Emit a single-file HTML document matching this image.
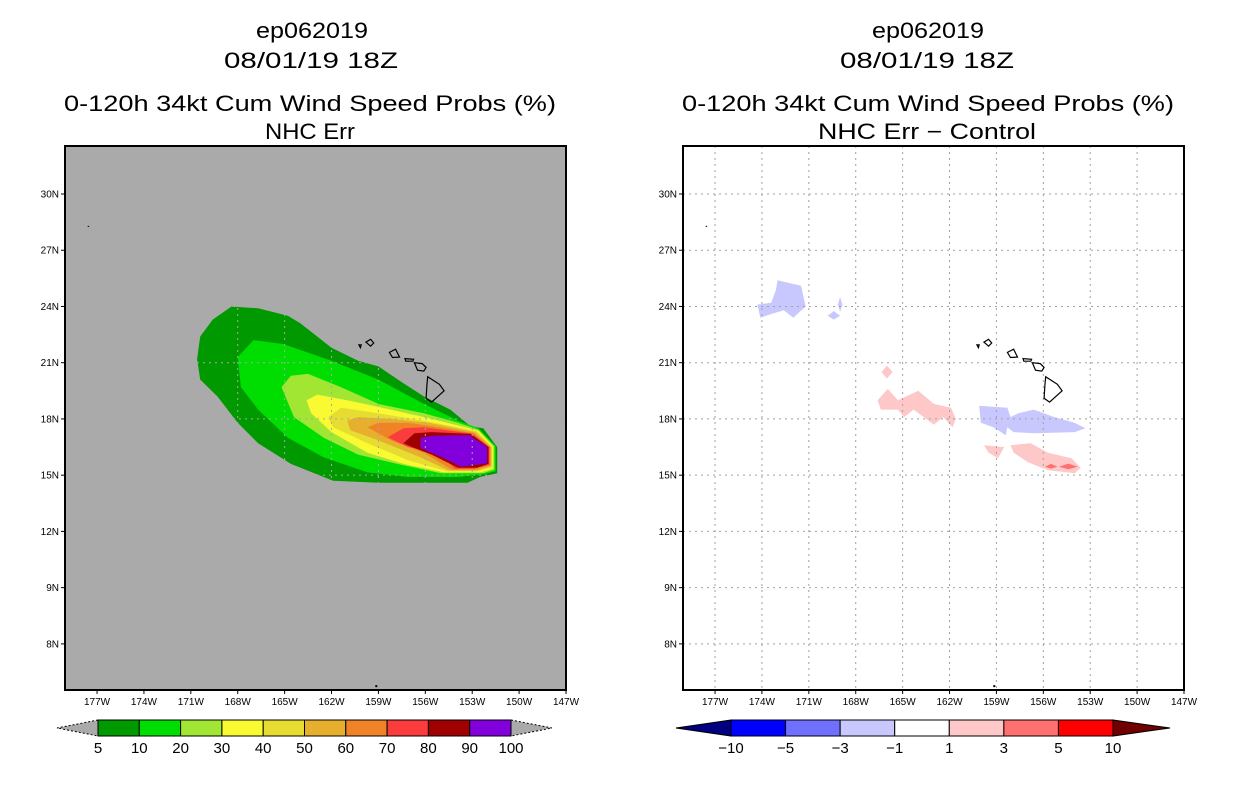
<!DOCTYPE html>
<html><head><meta charset="utf-8"><style>
html,body{margin:0;padding:0;background:#fff;}
svg{display:block;}
text{font-family:"Liberation Sans",sans-serif;}
</style></head><body>
<svg id="s" width="1236" height="800" viewBox="0 0 1236 800" xmlns="http://www.w3.org/2000/svg">
<g font-size="22" fill="#000">
<text x="256" y="38" textLength="112" lengthAdjust="spacingAndGlyphs">ep062019</text>
<text x="224" y="68" textLength="174" lengthAdjust="spacingAndGlyphs">08/01/19 18Z</text>
<text x="64" y="111" textLength="492" lengthAdjust="spacingAndGlyphs">0-120h 34kt Cum Wind Speed Probs (%)</text>
<text x="265" y="139" textLength="90" lengthAdjust="spacingAndGlyphs">NHC Err</text>
</g>
<g font-size="22" fill="#000">
<text x="872" y="38" textLength="112" lengthAdjust="spacingAndGlyphs">ep062019</text>
<text x="840" y="68" textLength="174" lengthAdjust="spacingAndGlyphs">08/01/19 18Z</text>
<text x="682" y="111" textLength="492" lengthAdjust="spacingAndGlyphs">0-120h 34kt Cum Wind Speed Probs (%)</text>
<text x="818" y="139" textLength="218" lengthAdjust="spacingAndGlyphs">NHC Err − Control</text>
</g>
</svg>
<script>
const lonTicks=[-177,-174,-171,-168,-165,-162,-159,-156,-153,-150,-147];
const lonLabels=["177W","174W","171W","168W","165W","162W","159W","156W","153W","150W","147W"];
const latTicks=[30,27,24,21,18,15,12,9,6];
const latLabels=["30N","27N","24N","21N","18N","15N","12N","9N","8N"];
const probLevels=["5","10","20","30","40","50","60","70","80","90","100"];
const probColors=["#009900","#00dd00","#a0e632","#fafa32","#e6dc32","#e6af2d","#f08228","#fa3c3c","#a00000","#8200dc"];
const diffLevels=["-10","-5","-3","-1","1","3","5","10"];
const diffColors=["#0000ff","#7070ff","#c8c8ff","#ffffff","#ffc8c8","#ff7070","#ff0000"];
const prob05=[[-170.4,22.4],[-169.6,23.3],[-168.4,24.0],[-166.7,23.9],[-164.8,23.5],[-164.0,23.1],[-162.0,21.8],[-160.3,21.1],[-159.0,20.8],[-157.4,19.9],[-156.1,19.2],[-154.4,18.5],[-153.1,17.6],[-152.3,17.5],[-151.4,16.5],[-151.4,15.1],[-152.5,14.9],[-153.3,14.6],[-156.1,14.6],[-159.0,14.6],[-161.9,14.7],[-164.6,15.6],[-166.7,16.7],[-168.0,17.8],[-169.3,19.2],[-170.4,20.1],[-170.6,21.2]];
const prob10=[[-168.0,21.3],[-167.0,22.2],[-165.1,22.0],[-162.0,21.1],[-159.0,20.1],[-156.1,18.8],[-153.9,17.9],[-152.6,17.5],[-151.5,16.55],[-151.5,15.2],[-152.3,15.05],[-153.9,14.9],[-157.1,14.9],[-159.7,15.15],[-162.5,15.95],[-164.8,17.0],[-166.7,18.5],[-167.8,19.7]];
const prob20=[[-165.2,19.7],[-164.6,20.3],[-163.5,20.4],[-161.4,19.7],[-159.0,18.8],[-156.1,18.3],[-153.9,17.8],[-152.6,17.42],[-151.58,16.55],[-151.58,15.28],[-152.3,15.1],[-155.0,15.1],[-157.8,15.6],[-160.3,16.1],[-162.5,17.0],[-164.4,18.1]];
const prob30=[[-163.6,19.0],[-162.9,19.3],[-161.0,19.0],[-158.2,18.5],[-155.6,18.0],[-152.6,17.38],[-151.66,16.52],[-151.66,15.35],[-152.5,15.15],[-154.8,15.15],[-157.4,15.6],[-159.7,16.2],[-162.0,17.3],[-163.3,18.3]];
const prob40=[[-162.2,18.1],[-161.4,18.6],[-159.0,18.3],[-156.1,17.9],[-152.7,17.35],[-151.72,16.5],[-151.72,15.42],[-152.6,15.2],[-154.6,15.2],[-157.1,15.8],[-159.7,16.7],[-161.9,17.56]];
const prob50=[[-161.0,17.9],[-160.3,18.1],[-158.2,18.0],[-155.8,17.8],[-152.8,17.3],[-151.78,16.5],[-151.78,15.48],[-152.7,15.25],[-154.5,15.25],[-156.3,15.95],[-159.0,16.86],[-160.8,17.4]];
const prob60=[[-159.7,17.56],[-159.0,17.8],[-157.1,17.8],[-155.5,17.6],[-152.9,17.25],[-151.84,16.5],[-151.84,15.52],[-152.8,15.3],[-154.3,15.3],[-156.1,16.2],[-158.2,16.86]];
const prob70=[[-158.4,17.02],[-157.4,17.5],[-156.1,17.56],[-153.0,17.22],[-151.9,16.5],[-151.9,15.56],[-152.9,15.35],[-154.1,15.35],[-155.2,16.2],[-157.1,16.5]];
const prob80=[[-157.4,16.7],[-156.7,17.24],[-155.6,17.3],[-153.1,17.2],[-151.96,16.5],[-151.96,15.6],[-152.7,15.4],[-153.9,15.4],[-155.6,16.1],[-156.7,16.45]];
const prob90=[[-156.3,17.0],[-155.5,17.1],[-153.2,17.13],[-152.05,16.5],[-152.05,15.64],[-153.7,15.45],[-154.8,15.9],[-156.3,16.45]];
const probPolys=[prob05,prob10,prob20,prob30,prob40,prob50,prob60,prob70,prob80,prob90];
const diffBlueNW=[[-173.0,25.4],[-171.5,25.1],[-171.2,24.0],[-172.0,23.4],[-172.6,23.8],[-173.4,23.6],[-174.1,23.4],[-174.3,24.1],[-173.4,24.2],[-173.1,24.9]];
const diffBlueSmall1=[[-169.0,24.5],[-168.85,24.1],[-169.0,23.7],[-169.15,24.1]];
const diffBlueSmall2=[[-169.4,23.75],[-169.0,23.5],[-169.4,23.3],[-169.8,23.5]];
const diffPinkMid=[[-166.6,19.0],[-165.95,19.6],[-165.3,19.0],[-164.0,19.5],[-163.0,18.8],[-161.9,18.6],[-161.6,18.0],[-161.8,17.56],[-162.4,18.1],[-163.0,17.7],[-164.3,18.5],[-164.9,18.1],[-165.3,18.5],[-166.4,18.5]];
const diffPinkDot=[[-166.0,20.85],[-165.65,20.5],[-166.0,20.15],[-166.35,20.5]];
const diffBlueE=[[-160.1,18.7],[-158.3,18.6],[-158.1,18.1],[-157.6,18.3],[-156.6,18.5],[-155.3,18.1],[-154.0,17.8],[-153.3,17.5],[-154.0,17.3],[-156.6,17.24],[-157.9,17.3],[-158.3,17.56],[-158.4,17.13],[-159.2,17.56],[-160.0,17.8]];
const diffPinkS1=[[-159.8,16.6],[-158.5,16.5],[-158.9,15.9],[-159.5,16.2]];
const diffPinkS2=[[-158.1,16.6],[-156.8,16.7],[-155.7,16.2],[-154.2,15.9],[-153.6,15.4],[-154.0,15.1],[-155.7,15.26],[-157.0,15.7],[-157.9,16.2]];
const diffRed1=[[-155.9,15.45],[-155.5,15.6],[-155.1,15.45],[-155.5,15.35]];
const diffRed2=[[-155.0,15.45],[-154.4,15.62],[-153.8,15.45],[-154.4,15.32]];
const diffPolys=[[diffBlueNW,"#c8c8ff"],[diffBlueSmall1,"#c8c8ff"],[diffBlueSmall2,"#c8c8ff"],[diffPinkMid,"#ffc8c8"],[diffPinkDot,"#ffc8c8"],[diffBlueE,"#c8c8ff"],[diffPinkS1,"#ffc8c8"],[diffPinkS2,"#ffc8c8"],[diffRed1,"#ff7070"],[diffRed2,"#ff7070"]];
const islands=[
 [[-155.85,20.25],[-155.1,19.85],[-154.8,19.5],[-155.6,18.9],[-155.95,19.1],[-155.9,19.8]],
 [[-156.7,21.0],[-156.2,20.95],[-155.95,20.75],[-156.1,20.55],[-156.5,20.6]],
 [[-157.3,21.22],[-156.75,21.18],[-156.8,21.08],[-157.25,21.08]],
 [[-158.3,21.55],[-157.9,21.72],[-157.65,21.3],[-158.1,21.28]],
 [[-159.8,22.1],[-159.5,22.25],[-159.3,22.05],[-159.5,21.88]],
 [[-160.25,21.95],[-160.1,21.95],[-160.15,21.8]]
];
const lonMin=-179.05,lonMax=-147,latMin=3.54,latMax=32.56;
const S=document.getElementById('s');
const NS="http://www.w3.org/2000/svg";
function mk(t,a,p){const e=document.createElementNS(NS,t);for(const k in a)e.setAttribute(k,a[k]);(p||S).appendChild(e);return e;}
function panel(ox){
 const x0=ox,x1=ox+501,y0=146,y1=690;
 const px=l=>x0+(l-lonMin)/(lonMax-lonMin)*(x1-x0);
 const py=l=>y0+(latMax-l)/(latMax-latMin)*(y1-y0);
 const pts=a=>a.map(p=>px(p[0]).toFixed(1)+","+py(p[1]).toFixed(1)).join(" ");
 return {x0,x1,y0,y1,px,py,pts};
}
function drawPanel(P,side,bg){
 const g=mk('g',{});
 
 
 const r=mk('rect',{x:P.x0,y:P.y0,width:P.x1-P.x0,height:P.y1-P.y0,fill:bg},g);
 
 
 return g;
}
function drawAxes(P,side,g,grid){
 const gg=mk('g',{stroke:grid,'stroke-width':1,'stroke-dasharray':'2,4'},g);
 
 
 lonTicks.forEach(l=>{const x=P.px(l);if(x<P.x1-1)mk('line',{x1:x,x2:x,y1:P.y0,y2:P.y1},gg);});
 latTicks.forEach(l=>{const y=P.py(l);mk('line',{x1:P.x0,x2:P.x1,y1:y,y2:y},gg);});
 const ig=mk('g',{fill:'none',stroke:'#000','stroke-width':1.2},g);
 
 
 islands.forEach(is=>mk('polygon',{points:P.pts(is)},ig));
 mk('rect',{x:P.px(-177.6),y:P.py(28.3),width:1.5,height:1,fill:'#000',stroke:'none'},ig);
 mk('rect',{x:P.px(-159.2),y:P.py(3.8),width:2,height:2,fill:'#000',stroke:'none'},ig);
 const fr=mk('rect',{x:P.x0,y:P.y0,width:P.x1-P.x0,height:P.y1-P.y0,fill:'none',stroke:'#000','stroke-width':2},g);
 
 
 const xa=mk('g',{'font-size':10,'text-anchor':'middle'},g);
 
 
 lonTicks.forEach((l,i)=>{const x=P.px(l);mk('line',{x1:x,x2:x,y1:P.y1,y2:P.y1+4,stroke:'#000'},xa);const t=mk('text',{x:x,y:P.y1+15},xa);t.textContent=lonLabels[i];});
 const ya=mk('g',{'font-size':10,'text-anchor':'end'},g);
 
 
 latTicks.forEach((l,i)=>{const y=P.py(l);mk('line',{x1:P.x0-4,x2:P.x0,y1:y,y2:y,stroke:'#000'},ya);const t=mk('text',{x:P.x0-6,y:y+3.5},ya);t.textContent=latLabels[i];});
}
function colorbar(side,x0,x1,tl,tr,colors,labels,lc,rc){
 const g=mk('g',{});
 
 
 const y0=720,y1=736,n=colors.length,w=(x1-x0)/n;
 mk('polygon',{points:`${x0},${y0} ${tl},${(y0+y1)/2} ${x0},${y1}`,fill:lc,stroke:'#000','stroke-width':1,'stroke-dasharray':lc=='#aaaaaa'?'2,2':'none'},g);
 mk('polygon',{points:`${x1},${y0} ${tr},${(y0+y1)/2} ${x1},${y1}`,fill:rc,stroke:'#000','stroke-width':1,'stroke-dasharray':rc=='#aaaaaa'?'2,2':'none'},g);
 colors.forEach((c,i)=>{const r=mk('rect',{x:x0+i*w,y:y0,width:w,height:y1-y0,fill:c,stroke:'#000','stroke-width':1},g);});
 labels.forEach((l,i)=>{const t=mk('text',{x:x0+i*w,y:753,'font-size':15,'text-anchor':'middle'},g);t.textContent=l.replace('-','−');});
}
const PL=panel(65);
const gl=drawPanel(PL,'left','#aaaaaa');
const cg=mk('g',{'stroke-linejoin':'round'},gl);


probPolys.forEach((p,i)=>{const e=mk('polygon',{points:PL.pts(p),fill:probColors[i]},cg);});
drawAxes(PL,'left',gl,'#a8a8a8');
const PR=panel(683);
const gr=drawPanel(PR,'right','#ffffff');
const dg=mk('g',{},gr);


diffPolys.forEach(d=>{const e=mk('polygon',{points:PR.pts(d[0]),fill:d[1]},dg);});
drawAxes(PR,'right',gr,'#a0a0a0');
colorbar('left',98,511,57,552,probColors,probLevels,'#aaaaaa','#aaaaaa');
colorbar('right',731,1113,676,1170,diffColors,diffLevels,'#000080','#700000');
</script>
</body></html>
